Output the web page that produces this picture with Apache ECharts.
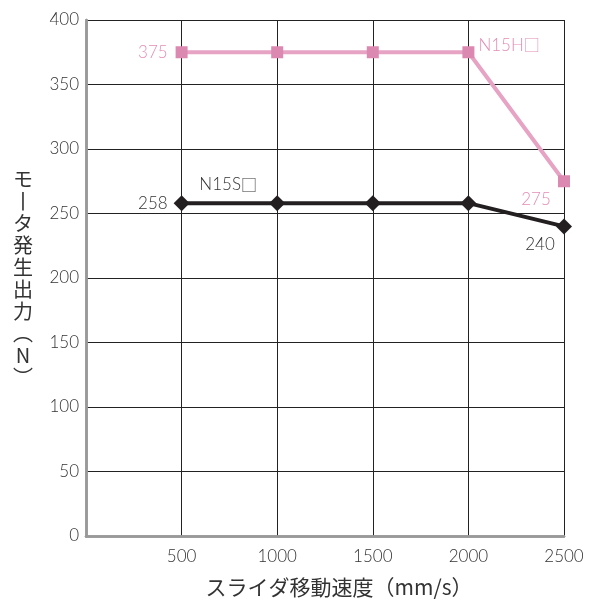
<!DOCTYPE html>
<html>
<head>
<meta charset="utf-8">
<script src="https://cdn.jsdelivr.net/npm/echarts@6/dist/echarts.min.js"></script>
<style>
    html, body { margin: 0; padding: 0; background: #fff; }
    #chart { width: 594px; height: 603px; }
</style>
</head>
<body>
<div id="chart"></div>
<script>
    // 速度 (mm/s)
    var speeds = [500, 1000, 1500, 2000, 2500];
    var n15h = [375, 375, 375, 375, 275];
    var n15s = [258, 258, 258, 258, 240];
    var xTicks = [0, 500, 1000, 1500, 2000, 2500];
    var yTicks = [0, 50, 100, 150, 200, 250, 300, 350, 400];

    var numFont = 'Lato, "Noto Sans CJK JP", sans-serif';
    var jpFont = '"Noto Sans CJK JP", sans-serif';
    var pink = '#e38db6';
    var black = '#231f20';

    function pts(vals, labels) {
        return vals.map(function (v, i) {
            var item = { value: [speeds[i], v] };
            if (labels[i]) {
                item.label = labels[i];
                if (!item.label.formatter) item.label.formatter = function (p) { return p.value[1]; };
            }
            return item;
        });
    }

    // 系列名 + 白抜き四角
    function nameLabel(p) {
        return '{t|' + p.seriesName.replace('□', '') + '}{s|□}';
    }
    function nameRich(color) {
        return {
            t: { fontFamily: numFont, fontWeight: 300, fontSize: 17, color: color },
            s: { fontFamily: jpFont, fontWeight: 300, fontSize: 16, color: color }
        };
    }

    var myChart = echarts.init(document.getElementById('chart'));
    myChart.setOption({
        animation: false,
        textStyle: { fontFamily: numFont, fontWeight: 300 },
        grid: { left: 86, right: 30, top: 20, bottom: 66 },
        xAxis: [{
            type: 'value',
            min: xTicks[0],
            max: xTicks[xTicks.length - 1],
            interval: 500,
            name: 'スライダ移動速度（mm/s）',
            nameLocation: 'middle',
            nameGap: 41,
            nameTextStyle: { fontSize: 21, color: '#333', fontFamily: jpFont, fontWeight: 400, padding: [0, 0, 0, 28] },
            axisLine: { show: true, lineStyle: { color: '#999', width: 2.5 } },
            axisTick: { show: false },
            axisLabel: {
                fontSize: 17, color: '#333', margin: 12,
                formatter: function (v) { return v === 0 ? '' : v; }
            },
            splitLine: { show: true, lineStyle: { color: '#222', width: 1 } }
        }, {
            type: 'value', position: 'top', z: 1,
            min: xTicks[0], max: xTicks[xTicks.length - 1],
            axisLine: { show: true, lineStyle: { color: '#999', width: 2.5 } },
            axisTick: { show: false }, axisLabel: { show: false }, splitLine: { show: false }
        }],
        yAxis: [{
            type: 'value',
            min: yTicks[0],
            max: yTicks[yTicks.length - 1],
            interval: 50,
            name: 'モ\n丨\nタ\n発\n生\n出\n力\n︵\nN\n︶',
            nameLocation: 'middle',
            nameRotate: 0,
            nameGap: 63,
            nameTextStyle: { fontSize: 20, color: '#333', lineHeight: 22, fontFamily: jpFont, fontWeight: 400, align: 'center', width: 20 },
            axisLine: { show: true, lineStyle: { color: '#999', width: 2.5 } },
            axisTick: { show: false },
            axisLabel: { fontSize: 17, color: '#333', margin: 7 },
            splitLine: { show: true, lineStyle: { color: '#222', width: 1 } }
        }, {
            type: 'value', position: 'right', z: 1,
            min: yTicks[0], max: yTicks[yTicks.length - 1],
            axisLine: { show: true, lineStyle: { color: '#999', width: 2.5 } },
            axisTick: { show: false }, axisLabel: { show: false }, splitLine: { show: false }
        }],
        series: [
            {
                name: 'N15H□',
                type: 'line',
                z: 3,
                symbol: 'rect',
                symbolSize: 12,
                lineStyle: { color: '#e6a3c4', width: 4 },
                itemStyle: { color: '#dc89b2' },
                label: { show: false, color: pink, fontSize: 17 },
                data: pts(n15h, [
                    { show: true, position: 'left', distance: 8 },
                    null, null,
                    { show: true, position: 'right', distance: 4, offset: [0, -7], formatter: nameLabel, rich: nameRich(pink) },
                    { show: true, position: 'bottom', distance: 4, offset: [-28, 0] }
                ])
            },
            {
                name: 'N15S□',
                type: 'line',
                z: 3,
                symbol: 'diamond',
                symbolSize: 16,
                lineStyle: { color: black, width: 4 },
                itemStyle: { color: black },
                label: { show: false, color: '#333', fontSize: 17 },
                data: pts(n15s, [
                    { show: true, position: 'left', distance: 6 },
                    { show: true, position: 'top', distance: 2, offset: [-49, 0], formatter: nameLabel, rich: nameRich('#333') },
                    null, null,
                    { show: true, position: 'bottom', distance: 2, offset: [-24, 0] }
                ])
            }
        ]
    });
</script>
</body>
</html>
